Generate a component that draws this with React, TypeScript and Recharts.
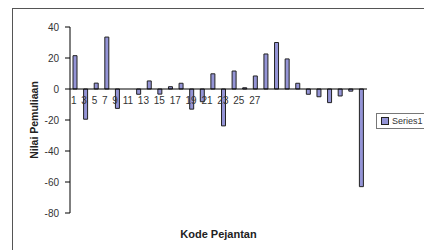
import { BarChart, Bar, XAxis, YAxis, ReferenceLine, Legend } from "recharts";

const codes = Array.from({ length: 28 }, (_, i) => String(i + 1));
const nilai = [
  21.5, -19.5, 3.8, 33.5, -12.5, 0, -3.4, 5.2, -3.3, 1.5, 3.7, -13, -8.2, 9.8,
  -23.8, 11.6, 0.8, 8.4, 22.6, 30, 19.4, 3.7, -3.4, -5, -8.8, -4.5, -1.4, -63,
];
const tickLabels = ["1", "3", "5", "7", "9", "11", "13", "15", "17", "19", "21", "23", "25", "27"];
const yTicks = [-80, -60, -40, -20, 0, 20, 40];

const data = codes.map((code, i) => ({ code, value: nilai[i] }));

const FONT = "Arial, 'Liberation Sans', sans-serif";
const BAR = "#9494d6";

// category labels sit just under the zero line, run together like the original
function ZeroLabels({ viewBox }: any) {
  if (!viewBox) return null;
  return (
    <text
      x={viewBox.x + 1}
      y={viewBox.y + 15}
      fontFamily={FONT}
      fontSize={10}
      fill="#333"
      style={{ wordSpacing: 2 }}
    >
      {tickLabels.join(" ")}
    </text>
  );
}

function LegendBox() {
  return (
    <div
      style={{
        display: "flex",
        alignItems: "center",
        border: "1px solid #777",
        background: "#fff",
        height: 14,
        padding: "0 0 0 4px",
        fontFamily: FONT,
        fontSize: 9,
        color: "#333",
        whiteSpace: "nowrap",
      }}
    >
      <span
        style={{
          display: "inline-block",
          width: 6,
          height: 6,
          background: BAR,
          border: "1px solid #222",
          marginRight: 3,
        }}
      />
      Series1
    </div>
  );
}

export default function App() {
  return (
    <div
      style={{
        position: "fixed",
        left: 0,
        top: 0,
        width: 424,
        height: 250,
        overflow: "hidden",
        background: "#fff",
      }}
    >
      <div
        style={{
          position: "absolute",
          left: 12,
          top: 8,
          width: 440,
          height: 270,
          border: "1px solid #555",
        }}
      />
      <div style={{ position: "absolute", left: 0, top: 0 }}>
        <BarChart
          width={424}
          height={250}
          data={data}
          margin={{ top: 27, right: 57, bottom: 0, left: 0 }}
          barSize={4}
        >
          <XAxis
            dataKey="code"
            height={37}
            axisLine={false}
            tickLine={false}
            tick={false}
            label={{
              value: "Kode Pejantan",
              position: "insideBottom",
              offset: 12,
              style: { fontFamily: FONT, fontSize: 11, fontWeight: "bold", fill: "#222" },
            }}
          />
          <YAxis
            width={70}
            domain={[-80, 40]}
            ticks={yTicks}
            interval={0}
            axisLine={{ stroke: "#000" }}
            tickLine={{ stroke: "#000" }}
            tickSize={5}
            tickMargin={6}
            tick={{ fontFamily: FONT, fontSize: 10, fill: "#333" }}
            label={{
              value: "Nilai Pemuliaan",
              angle: -90,
              position: "insideLeft",
              offset: 34,
              style: {
                fontFamily: FONT,
                fontSize: 10.5,
                fontWeight: "bold",
                fill: "#222",
                textAnchor: "middle",
              },
            }}
          />
          <Legend
            layout="vertical"
            align="center"
            verticalAlign="middle"
            content={<LegendBox />}
            wrapperStyle={{ left: 376, top: 113, width: 80 }}
          />
          <Bar
            dataKey="value"
            name="Series1"
            fill={BAR}
            stroke="#222"
            strokeWidth={1}
            isAnimationActive={false}
          />
          <ReferenceLine y={0} stroke="#000" label={<ZeroLabels />} />
        </BarChart>
      </div>
    </div>
  );
}
